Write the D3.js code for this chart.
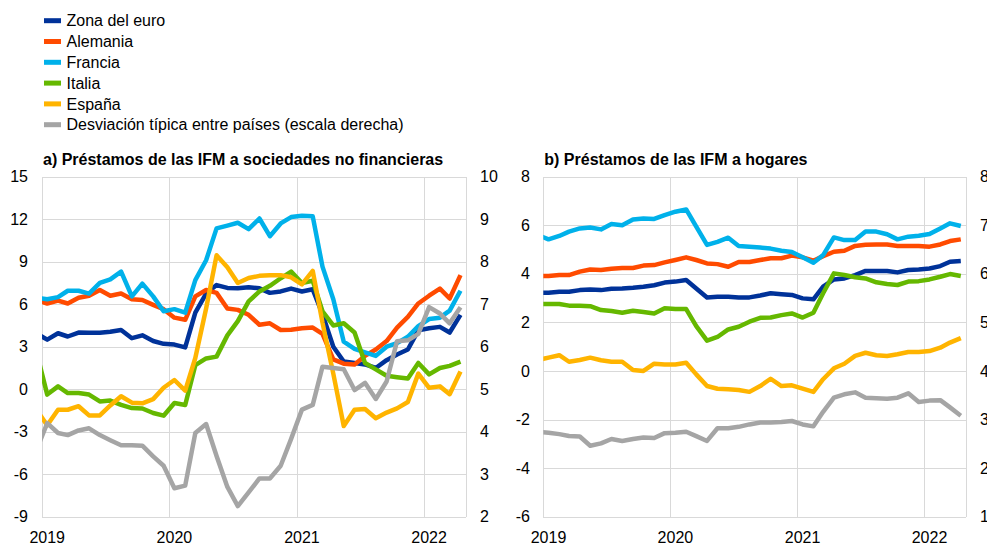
<!DOCTYPE html>
<html lang="es">
<head>
<meta charset="UTF-8">
<title>Préstamos de las IFM</title>
<script src="https://d3js.org/d3.v7.min.js"></script>
<style>
    body { margin: 0; background: #fff; font-family: Arial, "Liberation Sans", sans-serif; }
    text { font-family: Arial, "Liberation Sans", sans-serif; fill: #000; }
    .grid { stroke: #d9d9d9; stroke-width: 1; shape-rendering: crispEdges; }
    .series { fill: none; stroke-width: 4.5; stroke-linejoin: round; stroke-linecap: butt; }
</style>
</head>
<body>
<svg id="chart" width="987" height="544"></svg>
<script>
// months Dec 2018 - Apr 2022 (first one sits just outside the axis and is clipped)
const months = ["2018-12",
    "2019-01","2019-02","2019-03","2019-04","2019-05","2019-06","2019-07","2019-08","2019-09","2019-10","2019-11","2019-12",
    "2020-01","2020-02","2020-03","2020-04","2020-05","2020-06","2020-07","2020-08","2020-09","2020-10","2020-11","2020-12",
    "2021-01","2021-02","2021-03","2021-04","2021-05","2021-06","2021-07","2021-08","2021-09","2021-10","2021-11","2021-12",
    "2022-01","2022-02","2022-03","2022-04"];
const yearTicks = ["2019", "2020", "2021", "2022"];

const seriesNames = ["Zona del euro", "Alemania", "Francia", "Italia", "España", "Desviación típica entre países (escala derecha)"];
const seriesColors = ["#003299", "#ff4b00", "#00b1ea", "#65b800", "#ffb400", "#a5a5a5"];

// a) loans to non-financial corporations (% y/y), last one = cross-country std (right axis)
const nfcEuro = [3.95, 3.5, 3.95, 3.72, 4.0, 3.98, 3.98, 4.05, 4.18, 3.6, 3.8, 3.4, 3.2, 3.15, 2.95, 5.4, 6.75, 7.35, 7.15, 7.12, 7.2, 7.12, 6.8, 6.9, 7.1, 6.9, 7.05, 5.3, 3.0, 1.95, 1.85, 1.75, 1.5, 2.05, 2.45, 2.8, 4.15, 4.3, 4.4, 4.0, 5.25];
const nfcDE = [6.3, 6.05, 6.25, 6.05, 6.45, 6.6, 7.0, 6.6, 6.75, 6.35, 6.3, 5.95, 5.65, 5.05, 4.9, 6.55, 7.0, 6.8, 5.7, 5.6, 5.25, 4.55, 4.65, 4.18, 4.2, 4.3, 4.35, 3.9, 2.1, 1.8, 1.75, 2.35, 2.8, 3.4, 4.35, 5.1, 6.05, 6.6, 7.1, 6.4, 8.05];
const nfcFR = [6.45, 6.35, 6.5, 6.95, 6.95, 6.75, 7.5, 7.75, 8.3, 6.55, 7.45, 6.55, 5.5, 5.65, 5.4, 7.7, 9.1, 11.35, 11.55, 11.75, 11.3, 12.05, 10.8, 11.7, 12.15, 12.25, 12.2, 8.65, 6.35, 3.35, 2.85, 2.6, 2.35, 3.0, 3.25, 3.7, 4.45, 4.95, 5.05, 5.55, 6.95];
const nfcIT = [2.65, -0.38, 0.2, -0.27, -0.27, -0.38, -0.86, -0.8, -1.1, -1.33, -1.36, -1.68, -1.87, -0.97, -1.12, 1.7, 2.17, 2.3, 3.8, 4.8, 6.2, 6.9, 7.3, 7.83, 8.3, 7.5, 7.65, 5.5, 4.5, 4.65, 4.0, 1.85, 1.4, 0.95, 0.85, 0.75, 1.85, 1.05, 1.5, 1.65, 1.95];
const nfcES = [-1.45, -2.55, -1.45, -1.45, -1.2, -1.85, -1.85, -1.15, -0.5, -0.95, -1.0, -0.7, 0.1, 0.65, -0.1, 2.2, 5.7, 9.45, 8.6, 7.5, 7.85, 8.0, 8.05, 8.05, 7.9, 7.4, 8.35, 4.7, 1.1, -2.6, -1.45, -1.4, -2.05, -1.65, -1.35, -0.9, 1.1, 0.1, 0.2, -0.35, 1.25];
const nfcSD = [3.57, 4.2, 3.97, 3.92, 4.03, 4.08, 3.92, 3.8, 3.68, 3.68, 3.67, 3.42, 3.2, 2.67, 2.73, 3.97, 4.18, 3.43, 2.7, 2.25, 2.57, 2.9, 2.9, 3.2, 3.83, 4.52, 4.63, 5.53, 5.5, 5.47, 4.98, 5.15, 4.77, 5.18, 6.13, 6.15, 6.3, 6.93, 6.78, 6.55, 6.93];

// b) loans to households
const hhEuro = [3.22, 3.22, 3.26, 3.26, 3.33, 3.36, 3.33, 3.39, 3.4, 3.43, 3.47, 3.53, 3.64, 3.68, 3.75, 3.4, 3.03, 3.06, 3.06, 3.03, 3.03, 3.11, 3.2, 3.16, 3.13, 2.99, 2.95, 3.47, 3.77, 3.81, 3.95, 4.12, 4.12, 4.12, 4.06, 4.16, 4.18, 4.22, 4.32, 4.5, 4.53];
const hhDE = [3.91, 3.91, 3.95, 3.95, 4.09, 4.18, 4.16, 4.21, 4.24, 4.24, 4.34, 4.36, 4.47, 4.57, 4.68, 4.57, 4.43, 4.4, 4.29, 4.49, 4.49, 4.57, 4.64, 4.64, 4.75, 4.68, 4.54, 4.73, 4.91, 4.95, 5.15, 5.2, 5.21, 5.21, 5.15, 5.15, 5.15, 5.12, 5.21, 5.35, 5.42];
const hhFR = [5.6, 5.42, 5.56, 5.74, 5.87, 5.91, 5.83, 6.05, 6.0, 6.24, 6.28, 6.26, 6.42, 6.56, 6.65, 5.94, 5.19, 5.32, 5.49, 5.15, 5.12, 5.08, 5.04, 4.95, 4.9, 4.68, 4.46, 4.77, 5.5, 5.39, 5.39, 5.74, 5.74, 5.63, 5.42, 5.53, 5.57, 5.64, 5.87, 6.08, 5.97];
const hhIT = [2.76, 2.76, 2.76, 2.69, 2.69, 2.67, 2.51, 2.47, 2.4, 2.48, 2.43, 2.37, 2.58, 2.55, 2.55, 1.85, 1.25, 1.4, 1.71, 1.82, 2.03, 2.19, 2.2, 2.3, 2.37, 2.2, 2.4, 3.2, 4.02, 3.95, 3.86, 3.81, 3.65, 3.58, 3.54, 3.68, 3.7, 3.77, 3.88, 3.99, 3.91];
const hhES = [0.45, 0.55, 0.65, 0.38, 0.45, 0.55, 0.44, 0.38, 0.38, 0.04, 0.0, 0.3, 0.27, 0.27, 0.34, -0.14, -0.62, -0.73, -0.75, -0.78, -0.86, -0.62, -0.32, -0.62, -0.59, -0.73, -0.86, -0.34, 0.11, 0.3, 0.62, 0.75, 0.65, 0.62, 0.69, 0.78, 0.78, 0.82, 0.96, 1.17, 1.35];
const hhSD = [2.75, 2.73, 2.7, 2.66, 2.65, 2.46, 2.51, 2.6, 2.56, 2.6, 2.63, 2.62, 2.72, 2.73, 2.75, 2.66, 2.56, 2.82, 2.82, 2.85, 2.9, 2.94, 2.94, 2.95, 2.97, 2.9, 2.86, 3.16, 3.45, 3.52, 3.56, 3.45, 3.44, 3.43, 3.45, 3.54, 3.36, 3.39, 3.4, 3.25, 3.08];

const leftTicksA = [15, 12, 9, 6, 3, 0, -3, -6, -9];
const rightTicksA = [10, 9, 8, 7, 6, 5, 4, 3, 2];
const leftTicksB = [8, 6, 4, 2, 0, -2, -4, -6];
const rightTicksB = [8, 7, 6, 5, 4, 3, 2, 1];

const svg = d3.select("#chart");
const parseMonth = d3.timeParse("%Y-%m");
// monthly observations are plotted in the middle of their month
const midMonth = s => { const d = parseMonth(s); return new Date(d.getFullYear(), d.getMonth(), 16); };

// legend
const legend = svg.append("g");
seriesNames.forEach((name, i) => {
    const cy = 20.7 + i * 20.8;
    legend.append("rect")
        .attr("x", 44).attr("y", cy - 2.5)
        .attr("width", 17).attr("height", 5)
        .attr("fill", seriesColors[i]);
    legend.append("text")
        .attr("x", 66.5).attr("y", cy)
        .attr("dy", "0.35em")
        .style("font-size", "16px")
        .text(name);
});

function drawPanel(opt) {
    const g = svg.append("g");
    const x = d3.scaleTime()
        .domain([new Date(2019, 0, 1), new Date(2022, 4, 1)])
        .range([opt.left, opt.right]);
    const yL = d3.scaleLinear().domain(d3.extent(opt.leftTicks)).range([opt.bottom, opt.top]);
    const yR = d3.scaleLinear().domain(d3.extent(opt.rightTicks)).range([opt.bottom, opt.top]);

    // title
    g.append("text")
        .attr("x", opt.left + 1).attr("y", 165)
        .style("font-size", "16px").style("font-weight", "bold")
        .text(opt.title);

    // horizontal grid
    g.selectAll(".hgrid").data(opt.leftTicks).enter().append("line")
        .attr("class", "grid")
        .attr("x1", opt.left).attr("x2", opt.right)
        .attr("y1", d => Math.round(yL(d)) + 0.5).attr("y2", d => Math.round(yL(d)) + 0.5);

    // vertical grid at each year + frame
    const years = yearTicks.map(t => new Date(+t, 0, 1));
    g.selectAll(".vgrid").data(years).enter().append("line")
        .attr("class", "grid")
        .attr("x1", d => Math.round(x(d)) + 0.5).attr("x2", d => Math.round(x(d)) + 0.5)
        .attr("y1", opt.top).attr("y2", opt.bottom);
    g.append("line").attr("class", "grid")
        .attr("x1", Math.round(opt.right) + 0.5).attr("x2", Math.round(opt.right) + 0.5)
        .attr("y1", opt.top).attr("y2", opt.bottom);

    // axis labels
    g.selectAll(".ltick").data(opt.leftTicks).enter().append("text")
        .attr("x", opt.leftLabelX).attr("y", d => yL(d))
        .attr("dy", "0.35em").attr("text-anchor", "end")
        .style("font-size", "16px")
        .text(d => d);
    g.selectAll(".rtick").data(opt.rightTicks).enter().append("text")
        .attr("x", opt.rightLabelX).attr("y", d => yR(d))
        .attr("dy", "0.35em").attr("text-anchor", "start")
        .style("font-size", "16px")
        .text(d => d);
    g.selectAll(".xtick").data(yearTicks).enter().append("text")
        .attr("x", d => x(new Date(+d, 0, 16))).attr("y", 542.5)
        .attr("text-anchor", "middle")
        .style("font-size", "16px")
        .text(d => d);

    // clip
    const clipId = "clip" + opt.id;
    svg.append("clipPath").attr("id", clipId).append("rect")
        .attr("x", opt.left).attr("y", opt.top - 5)
        .attr("width", opt.right - opt.left).attr("height", opt.bottom - opt.top + 10);

    const lines = g.append("g").attr("clip-path", "url(#" + clipId + ")");
    opt.series.forEach((vals, i) => {
        const y = i === 5 ? yR : yL;
        const line = d3.line()
            .x((d, j) => x(midMonth(months[j])))
            .y(d => y(d));
        lines.append("path")
            .datum(vals)
            .attr("class", "series")
            .attr("stroke", seriesColors[i])
            .attr("d", line);
    });
}

drawPanel({
    id: "a",
    title: "a) Préstamos de las IFM a sociedades no financieras",
    left: 42, right: 465.7, top: 176.7, bottom: 516.7,
    leftTicks: leftTicksA, rightTicks: rightTicksA,
    leftLabelX: 28, rightLabelX: 480,
    series: [nfcEuro, nfcDE, nfcFR, nfcIT, nfcES, nfcSD]
});

drawPanel({
    id: "b",
    title: "b) Préstamos de las IFM a hogares",
    left: 543.3, right: 966, top: 176.7, bottom: 516.7,
    leftTicks: leftTicksB, rightTicks: rightTicksB,
    leftLabelX: 530, rightLabelX: 980,
    series: [hhEuro, hhDE, hhFR, hhIT, hhES, hhSD]
});
</script>
</body>
</html>
